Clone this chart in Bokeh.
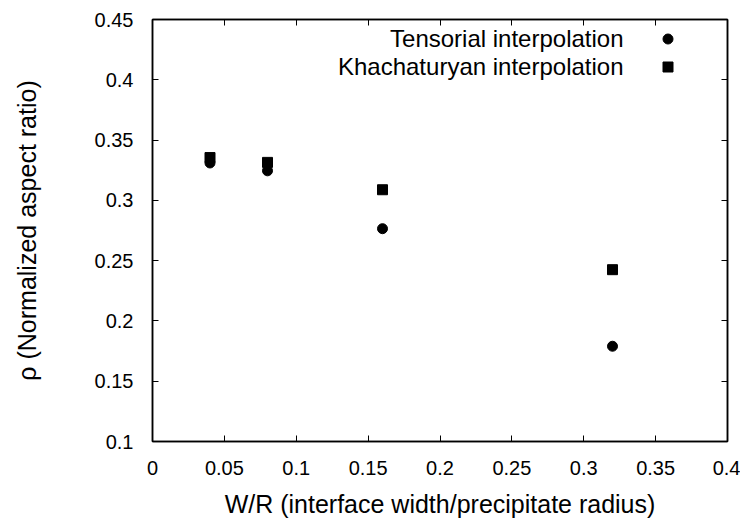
from bokeh.plotting import figure
from bokeh.models import (LinearAxis, FixedTicker, Range1d, Label, Legend, LegendItem,
                          ColumnDataSource)
from bokeh.embed import file_html
from bokeh.resources import INLINE

# ---- data ----
w_over_r = [0.04, 0.08, 0.16, 0.32]
tensorial = [0.331, 0.3245, 0.2765, 0.179]
khachaturyan = [0.3355, 0.3315, 0.3088, 0.2425]

x_ticks = [0, 0.05, 0.1, 0.15, 0.2, 0.25, 0.3, 0.35, 0.4]
x_tick_labels = ["0", "0.05", "0.1", "0.15", "0.2", "0.25", "0.3", "0.35", "0.4"]
y_ticks = [0.1, 0.15, 0.2, 0.25, 0.3, 0.35, 0.4, 0.45]
y_tick_labels = ["0.1", "0.15", "0.2", "0.25", "0.3", "0.35", "0.4", "0.45"]

series_names = ["Tensorial interpolation", "Khachaturyan interpolation"]

FONT = "Liberation Sans"
TICK_FS = "20px"
LABEL_FS = "25px"
LEGEND_FS = "24px"

p = figure(width=740, height=522, output_backend="svg", toolbar_location=None,
           x_range=Range1d(0, 0.4), y_range=Range1d(0.1, 0.45),
           x_axis_type=None, y_axis_type=None,
           min_border_left=152, min_border_right=13, min_border_top=19, min_border_bottom=81)
p.grid.visible = False
p.outline_line_color = "black"
p.outline_line_width = 1.5
p.background_fill_color = "white"
p.border_fill_color = "white"


def style(ax, ticks, labels, show_labels):
    ax.ticker = FixedTicker(ticks=ticks)
    ax.axis_line_color = "black"
    ax.axis_line_width = 1.5
    ax.major_tick_in = 6
    ax.major_tick_out = 0
    ax.major_tick_line_width = 1
    ax.major_tick_line_color = "black"
    ax.minor_tick_line_color = None
    ax.major_label_text_font = FONT
    ax.major_label_text_font_size = TICK_FS
    ax.major_label_text_color = "black"
    ax.axis_label_text_font = FONT
    ax.axis_label_text_font_size = LABEL_FS
    ax.axis_label_text_font_style = "normal"
    ax.axis_label_text_color = "black"
    if show_labels:
        ax.major_label_overrides = {t: l for t, l in zip(ticks, labels)}
    else:
        ax.major_label_overrides = {t: "" for t in ticks}


xb = LinearAxis(axis_label="W/R (interface width/precipitate radius)")
style(xb, x_ticks, x_tick_labels, True)
xb.major_label_standoff = 19
xb.axis_label_standoff = 12
p.add_layout(xb, "below")

xt = LinearAxis()
style(xt, x_ticks, x_tick_labels, False)
p.add_layout(xt, "above")

yl = LinearAxis(axis_label="ρ (Normalized aspect ratio)")
style(yl, y_ticks, y_tick_labels, True)
yl.major_label_standoff = 19
yl.axis_label_standoff = 51
p.add_layout(yl, "left")

yr = LinearAxis()
style(yr, y_ticks, y_tick_labels, False)
p.add_layout(yr, "right")

src = ColumnDataSource(dict(x=w_over_r, t=tensorial, k=khachaturyan))
r1 = p.scatter("x", "t", source=src, marker="circle", size=10,
               fill_color="black", line_color="black")
r2 = p.scatter("x", "k", source=src, marker="square", size=10,
               fill_color="black", line_color="black")

# legend: markers via Legend (empty labels), texts as right-aligned labels
leg = Legend(items=[LegendItem(label="", renderers=[r1]),
                    LegendItem(label="", renderers=[r2])],
             location=(503, 362), orientation="vertical",
             background_fill_alpha=0, border_line_color=None,
             glyph_width=25, glyph_height=25, label_width=0, label_standoff=0,
             spacing=3, padding=0, margin=0)
p.add_layout(leg, "center")

for i, name in enumerate(series_names):
    p.add_layout(Label(x=471, y=403 - 27.7 * i, x_units="screen", y_units="screen",
                       text=name, text_align="right", text_baseline="middle",
                       text_font=FONT, text_font_size=LEGEND_FS, text_color="black"))

open("out.html", "w").write(file_html(p, INLINE))
